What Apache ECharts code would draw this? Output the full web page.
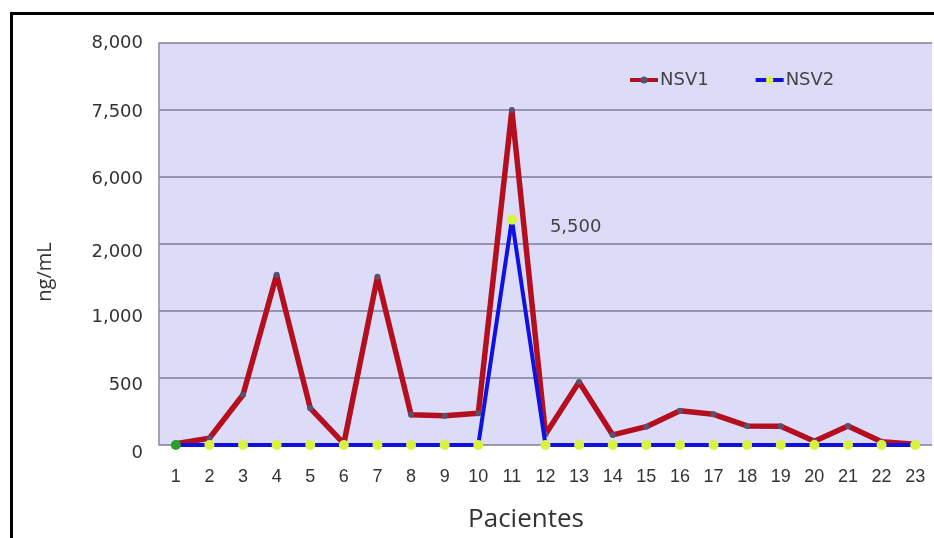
<!DOCTYPE html>
<html>
<head>
<meta charset="utf-8">
<script src="https://cdn.jsdelivr.net/npm/echarts@6/dist/echarts.min.js"></script>
<style>
html,body{margin:0;padding:0;background:#fff;}
#c{width:934px;height:538px;}
</style>
</head>
<body>
<div id="c"></div>
<script>
// ---- data ----
const patients = ['1','2','3','4','5','6','7','8','9','10','11','12','13','14','15','16','17','18','19','20','21','22','23'];
// y-axis tick labels (the original axis is unevenly labelled, ticks equally spaced)
const yTickValues = [0, 500, 1000, 2000, 6000, 7500, 8000];
const yTickLabels = ['0', '500', '1,000', '2,000', '6,000', '7,500', '8,000'];
const nsv1 = [10, 50, 375, 1540, 275, 10, 1510, 225, 218, 237, 7500, 80, 470, 75, 137, 256, 229, 142, 140, 28, 142, 25, 5];
const nsv2 = [0, 0, 0, 0, 0, 0, 0, 0, 0, 0, 3450, 0, 0, 0, 0, 0, 0, 0, 0, 0, 0, 0, 0];
const nsv2LabelPatient = '11';
const nsv2LabelText = '5,500';
const xTitle = 'Pacientes';
const yTitle = 'ng/mL';

// map ng/mL to position on the equally spaced tick scale
function toPos(v) {
  for (let i = 1; i < yTickValues.length; i++) {
    if (v <= yTickValues[i]) {
      const a = yTickValues[i - 1], b = yTickValues[i];
      return (i - 1) + (v - a) / (b - a);
    }
  }
  return yTickValues.length - 1;
}

// small downward shifts of the y tick labels, as in the reference
const labelShift = [8, 7, 6, 8, 2, 2, 0];
const rich = {};
labelShift.forEach((s, i) => {
  rich['p' + i] = {padding: [2 * s, 0, 0, 0], color: '#333', fontSize: 18, fontFamily: 'DejaVu Sans'};
});

const chart = echarts.init(document.getElementById('c'), null, {renderer: 'canvas'});
const nsv2Data = nsv2.map((v, i) => {
  const item = {value: toPos(v)};
  if (i === 0) item.itemStyle = {color: '#2aa02a'};
  if (patients[i] === nsv2LabelPatient) {
    item.label = {show: true, position: 'right', distance: 33, offset: [0, 8], formatter: nsv2LabelText,
      color: '#444', fontSize: 18, fontFamily: 'DejaVu Sans'};
  }
  return item;
});

chart.setOption({
  animation: false,
  backgroundColor: '#ffffff',
  graphic: [
    {type: 'rect', left: 9, top: 11, shape: {width: 1000, height: 1000},
     style: {fill: 'none', stroke: '#000', lineWidth: 3}, z: 100},
    {type: 'text', x: 526, y: 520, style: {text: xTitle, fontSize: 26, fill: '#333', fontFamily: 'Open Sans',
      textAlign: 'center', textVerticalAlign: 'middle'}},
    {type: 'text', x: 45, y: 272, rotation: Math.PI / 2, style: {text: yTitle, fontSize: 20, fill: '#333', fontFamily: 'Open Sans',
      textAlign: 'center', textVerticalAlign: 'middle'}}
  ],
  grid: {left: 159, top: 43, right: 2, bottom: 93, show: true, backgroundColor: '#dcdcf8', borderWidth: 0},
  legend: {
    left: 623, top: 66, itemWidth: 28, itemHeight: 9, itemGap: 45,
    textStyle: {color: '#444', fontSize: 18, fontFamily: 'DejaVu Sans', padding: [0, 0, 0, -3]},
    data: [
      {name: 'NSV1', lineStyle: {width: 4}},
      {name: 'NSV2', lineStyle: {width: 4}}
    ]
  },
  xAxis: {
    type: 'category', data: patients, boundaryGap: true,
    axisLine: {show: false}, axisTick: {show: false},
    axisLabel: {color: '#333', fontSize: 18, margin: 23, fontFamily: 'Liberation Sans', interval: 0}
  },
  yAxis: {
    type: 'value', min: 0, max: yTickValues.length - 1, interval: 1,
    axisLine: {show: true, lineStyle: {color: '#8a8aa0', width: 1.5}},
    axisTick: {show: false},
    splitLine: {show: true, lineStyle: {color: '#7e7e98', width: 1.5}},
    axisLabel: {margin: 16, rich: rich,
      formatter: v => { const i = Math.round(v); return '{p' + i + '|' + yTickLabels[i] + '}'; }}
  },
  series: [
    {
      name: 'NSV1', type: 'line', data: nsv1.map(toPos),
      symbol: 'circle', symbolSize: 6, showSymbol: true,
      lineStyle: {color: '#b40f1e', width: 5.5},
      itemStyle: {color: '#5a5070'},
      z: 2
    },
    {
      name: 'NSV2', type: 'line', data: nsv2Data,
      symbol: 'circle', symbolSize: 10, showSymbol: true,
      lineStyle: {color: '#1010e0', width: 4},
      itemStyle: {color: '#d8f23e'},
      z: 3
    }
  ]
});
</script>
</body>
</html>
